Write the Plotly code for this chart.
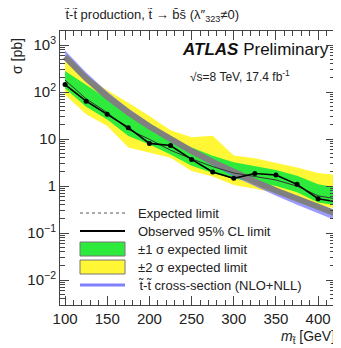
import plotly.graph_objects as go

mass = [100, 125, 150, 175, 200, 225, 250, 275, 300, 325, 350, 375, 400, 425]
observed = [145, 64, 33.6, 17.5, 8.1, 7.3, 3.7, 2.0, 1.46, 1.85, 1.72, 1.09, 0.54, 0.45]
expected = [180, 72, 36.5, 16.1, 9.9, 5.8, 3.8, 2.6, 1.9, 1.6, 1.35, 1.0, 0.62, 0.52]
green_up = [280, 140, 70, 36.5, 18.9, 10.7, 6.6, 4.4, 3.2, 2.7, 2.2, 1.65, 1.1, 0.9]
green_lo = [120, 49, 26, 11.6, 7.7, 4.7, 2.7, 1.9, 1.45, 1.22, 1.0, 0.74, 0.45, 0.38]
yellow_up = [460, 226, 110, 59, 31, 15.5, 11, 11.8, 4.5, 3.9, 3.1, 2.5, 1.9, 1.7]
yellow_lo = [88, 33.6, 18.9, 6.6, 5.1, 4.0, 2.1, 1.6, 1.05, 0.88, 0.72, 0.55, 0.4, 0.32]
theory = [560, 197, 80.3, 36.8, 18.5, 9.9, 5.57, 3.27, 1.99, 1.25, 0.807, 0.531, 0.357, 0.243]
theory_up = [770, 260, 102, 45, 22, 11.5, 6.3, 3.6, 2.12, 1.3, 0.82, 0.53, 0.355, 0.24]
theory_lo = [540, 190, 77, 34, 16.5, 8.6, 4.8, 2.75, 1.6, 0.98, 0.62, 0.40, 0.26, 0.175]

y_tickvals = [0.01, 0.1, 1, 10, 100, 1000]
y_ticktext = ["10<sup>−2</sup>", "10<sup>−1</sup>", "1", "10", "10<sup>2</sup>", "10<sup>3</sup>"]
x_tickvals = [100, 150, 200, 250, 300, 350, 400]

FONT = "Liberation Sans, Arial, sans-serif"
GREEN = "#2eea3c"
YELLOW = "#fff735"

fig = go.Figure()

def band(up, lo, color):
    fig.add_trace(go.Scatter(
        x=mass + mass[::-1], y=up + lo[::-1], fill="toself", fillcolor=color,
        line=dict(width=0), mode="lines", hoverinfo="skip", showlegend=False))

band(yellow_up, yellow_lo, YELLOW)
band(green_up, green_lo, GREEN)
band(theory_up, theory_lo, "rgba(100,100,255,0.65)")

fig.add_trace(go.Scatter(x=mass, y=theory, mode="lines",
                         line=dict(color="#808080", width=6), showlegend=False))
fig.add_trace(go.Scatter(x=mass, y=expected, mode="lines",
                         line=dict(color="#333333", width=1), showlegend=False))
fig.add_trace(go.Scatter(x=mass, y=observed, mode="lines+markers",
                         line=dict(color="black", width=1.6),
                         marker=dict(color="black", size=5), showlegend=False))

axis_common = dict(
    showline=True, linecolor="#444", linewidth=1, mirror="allticks",
    ticks="inside", ticklen=9, tickcolor="#444", showgrid=False, zeroline=False,
    tickfont=dict(family=FONT, size=15, color="#222"),
)

fig.update_xaxes(range=[94, 420], tickvals=x_tickvals,
                 minor=dict(ticks="inside", ticklen=5, dtick=10, tickcolor="#444", showgrid=False),
                 **axis_common)
fig.update_yaxes(type="log", range=[-2.53, 3.3], tickvals=y_tickvals, ticktext=y_ticktext,
                 minor=dict(ticks="inside", ticklen=5, dtick="D1", tickcolor="#444", showgrid=False),
                 **axis_common)

# page has an 8px body margin: compensate so the figure lands like the reference
OFF = 8
W, H = 341 - OFF, 348 - OFF
L, T = 60 - OFF, 31 - OFF
R = W - (335 - OFF)
B = H - (305 - OFF)
pw, ph = W - L - R, H - T - B

def px(x):
    return (x - OFF - L) / pw

def py(y):
    return 1 - (y - OFF - T) / ph

ann = []
ann.append(dict(x=px(62), y=py(15), xref="paper", yref="paper", xanchor="left", yanchor="middle",
                text="t̃-t̃ production, t̃ → b̄s̄ (λ″<sub>323</sub>≠0)",
                showarrow=False, font=dict(family=FONT, size=13, color="#222")))
ann.append(dict(x=px(331), y=py(50), xref="paper", yref="paper", xanchor="right", yanchor="middle",
                text="<b><i>ATLAS</i></b> Preliminary", showarrow=False,
                font=dict(family=FONT, size=17, color="#111")))
ann.append(dict(x=px(188), y=py(76), xref="paper", yref="paper", xanchor="left", yanchor="middle",
                text="√s=8 TeV, 17.4 fb<sup>-1</sup>", showarrow=False,
                font=dict(family=FONT, size=12, color="#222")))
ann.append(dict(x=px(337), y=py(337), xref="paper", yref="paper", xanchor="right", yanchor="middle",
                text="<i>m</i><sub>t̃</sub> [GeV]", showarrow=False,
                font=dict(family=FONT, size=14, color="#222")))
ann.append(dict(x=px(17), y=py(36), xref="paper", yref="paper", xanchor="center", yanchor="top",
                text="σ [pb]", textangle=-90, showarrow=False,
                font=dict(family=FONT, size=14, color="#222")))

shapes = []
rows = [213, 231, 249, 267, 285]
labels = ["Expected limit", "Observed 95% CL limit", "±1 σ expected limit",
          "±2 σ expected limit", "t̃-t̃ cross-section (NLO+NLL)"]
shapes.append(dict(type="line", xref="paper", yref="paper", x0=px(80), x1=px(125),
                   y0=py(rows[0]), y1=py(rows[0]), line=dict(color="#555", width=1, dash="dot")))
shapes.append(dict(type="line", xref="paper", yref="paper", x0=px(80), x1=px(125),
                   y0=py(rows[1]), y1=py(rows[1]), line=dict(color="black", width=2)))
shapes.append(dict(type="rect", xref="paper", yref="paper", x0=px(80), x1=px(125),
                   y0=py(rows[2] + 7), y1=py(rows[2] - 7), fillcolor=GREEN,
                   line=dict(color="#777", width=1)))
shapes.append(dict(type="rect", xref="paper", yref="paper", x0=px(80), x1=px(125),
                   y0=py(rows[3] + 7), y1=py(rows[3] - 7), fillcolor=YELLOW,
                   line=dict(color="#777", width=1)))
shapes.append(dict(type="line", xref="paper", yref="paper", x0=px(80), x1=px(125),
                   y0=py(rows[4]), y1=py(rows[4]), line=dict(color="#8080ff", width=3)))
for r, lab in zip(rows, labels):
    ann.append(dict(x=px(136), y=py(r), xref="paper", yref="paper", xanchor="left",
                    yanchor="middle", text=lab, showarrow=False,
                    font=dict(family=FONT, size=13, color="#222")))

fig.update_layout(
    width=W, height=H, margin=dict(l=L, r=R, t=T, b=B),
    paper_bgcolor="white", plot_bgcolor="white", showlegend=False,
    annotations=ann, shapes=shapes,
)

fig.write_html("out.html")
